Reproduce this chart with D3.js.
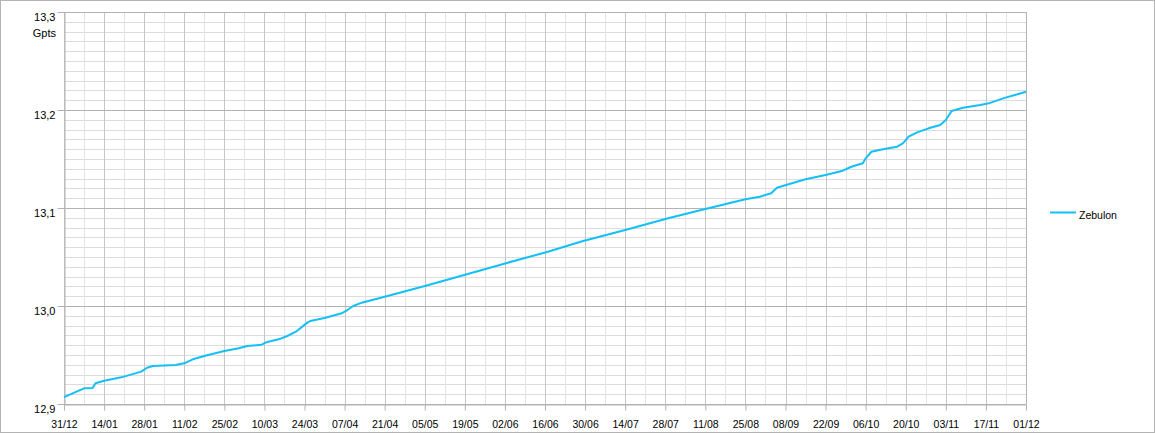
<!DOCTYPE html>
<html>
<head>
<meta charset="utf-8">
<script src="https://cdn.jsdelivr.net/npm/d3@7"></script>
<style>
  html, body { margin: 0; padding: 0; background: #fff; }
  svg { display: block; font-family: "Liberation Sans", Arial, sans-serif; }
</style>
</head>
<body>
<svg id="chart" width="1155" height="433"></svg>
<script>
// ---- data ----
const seriesName = "Zebulon";
const unitLabel = "Gpts";
const dates = [
  "2019-12-31","2020-01-07","2020-01-10","2020-01-11","2020-01-14","2020-01-20","2020-01-27","2020-01-29",
  "2020-01-31","2020-02-08","2020-02-11","2020-02-14","2020-02-19","2020-02-25","2020-03-01","2020-03-04",
  "2020-03-09","2020-03-11","2020-03-15","2020-03-18","2020-03-21","2020-03-25","2020-03-26","2020-03-31",
  "2020-04-06","2020-04-08","2020-04-10","2020-04-13","2020-04-22","2020-05-06","2020-05-20","2020-06-03",
  "2020-06-17","2020-06-29","2020-07-15","2020-07-29","2020-08-11","2020-08-25","2020-08-30","2020-09-03",
  "2020-09-05","2020-09-07","2020-09-15","2020-09-22","2020-09-28","2020-10-01","2020-10-05","2020-10-06",
  "2020-10-08","2020-10-12","2020-10-17","2020-10-19","2020-10-21","2020-10-24","2020-10-28","2020-11-01",
  "2020-11-03","2020-11-05","2020-11-09","2020-11-15","2020-11-18","2020-11-23","2020-11-28","2020-12-01"
];
const values = [
  12.9071,12.9160,12.9163,12.9211,12.9238,12.9272,12.9330,12.9370,
  12.9388,12.9398,12.9415,12.9456,12.9497,12.9541,12.9568,12.9592,
  12.9605,12.9633,12.9660,12.9694,12.9738,12.9830,12.9847,12.9878,
  12.9926,12.9959,13.0000,13.0034,13.0102,13.0211,13.0327,13.0442,
  13.0554,13.0660,13.0784,13.0895,13.0990,13.1089,13.1115,13.1150,
  13.1207,13.1224,13.1293,13.1337,13.1381,13.1421,13.1456,13.1507,
  13.1574,13.1599,13.1626,13.1660,13.1728,13.1772,13.1813,13.1847,
  13.1898,13.1990,13.2023,13.2051,13.2068,13.2119,13.2160,13.2187
];
const xTicks = [
  "2019-12-31","2020-01-14","2020-01-28","2020-02-11","2020-02-25","2020-03-10","2020-03-24",
  "2020-04-07","2020-04-21","2020-05-05","2020-05-19","2020-06-02","2020-06-16","2020-06-30",
  "2020-07-14","2020-07-28","2020-08-11","2020-08-25","2020-09-08","2020-09-22","2020-10-06",
  "2020-10-20","2020-11-03","2020-11-17","2020-12-01"
];
const yTicks = [12.9, 13.0, 13.1, 13.2, 13.3];
const yTickLabels = ["12,9", "13,0", "13,1", "13,2", "13,3"];

// ---- chart ----
(function () {
const parse = d3.utcParse("%Y-%m-%d");
const fmt = d3.utcFormat("%d/%m");
const data = dates.map((d, i) => ({ date: parse(d), value: values[i] }));
const tickDates = xTicks.map(parse);

const svg = d3.select("#chart");
const W = 1155, H = 433;
const pLeft = 64, pRight = 1026, pTop = 12, pBottom = 404;

svg.append("rect").attr("x", 0.5).attr("y", 0.5).attr("width", W - 1).attr("height", H - 1)
  .attr("fill", "#fff").attr("stroke", "#b3b3b3");

const x = d3.scaleUtc().domain([tickDates[0], tickDates[tickDates.length - 1]]).range([pLeft, pRight]);
const y = d3.scaleLinear().domain([12.9, 13.3]).range([pBottom, pTop]);

const grid = svg.append("g");
const minorY = d3.range(1, 40).filter(i => i % 10 !== 0).map(i => 12.9 + i * 0.01);
grid.selectAll(".hmin").data(minorY).join("line")
  .attr("x1", pLeft).attr("x2", pRight)
  .attr("y1", d => Math.round(y(d)) + 0.5).attr("y2", d => Math.round(y(d)) + 0.5)
  .attr("stroke", "#dcdcdc").attr("stroke-width", 1);
const minorX = tickDates.slice(0, -1).map(d => d3.utcDay.offset(d, 7));
grid.selectAll(".vmin").data(minorX).join("line")
  .attr("x1", d => Math.round(x(d)) + 0.5).attr("x2", d => Math.round(x(d)) + 0.5)
  .attr("y1", pTop).attr("y2", pBottom)
  .attr("stroke", "#e3e3e3").attr("stroke-width", 1);
grid.selectAll(".vmaj").data(tickDates).join("line")
  .attr("x1", d => Math.round(x(d)) + 0.5).attr("x2", d => Math.round(x(d)) + 0.5)
  .attr("y1", pTop).attr("y2", pBottom)
  .attr("stroke", "#c6c6c6").attr("stroke-width", 1);
grid.selectAll(".hmaj").data(yTicks).join("line")
  .attr("x1", pLeft).attr("x2", pRight)
  .attr("y1", d => Math.round(y(d)) + 0.5).attr("y2", d => Math.round(y(d)) + 0.5)
  .attr("stroke", "#b3b3b3").attr("stroke-width", 1);

const xAxis = d3.axisBottom(x).tickValues(tickDates).tickFormat(fmt).tickSize(6).tickSizeOuter(0).tickPadding(10);
const gx = svg.append("g").attr("transform", `translate(0,${pBottom + 0.5})`).call(xAxis);
gx.select(".domain").attr("stroke", "#b3b3b3");
gx.selectAll(".tick line").attr("stroke", "#b3b3b3");
gx.selectAll(".tick text").attr("font-size", "10.5px").attr("fill", "#000")
  .attr("font-family", "Liberation Sans, Arial, sans-serif");

const yAxis = d3.axisLeft(y).tickValues(yTicks).tickFormat((d, i) => yTickLabels[i]).tickSize(7).tickSizeOuter(0).tickPadding(2);
const gy = svg.append("g").attr("transform", `translate(${pLeft + 0.5},0)`).call(yAxis);
gy.select(".domain").attr("stroke", "#b3b3b3");
gy.selectAll(".tick line").attr("stroke", "#b3b3b3");
gy.selectAll(".tick text").attr("font-size", "11px").attr("fill", "#000").attr("dy", "0.75em")
  .attr("font-family", "Liberation Sans, Arial, sans-serif");

svg.append("line").attr("x1", pRight + 0.5).attr("x2", pRight + 0.5).attr("y1", pTop).attr("y2", pBottom)
  .attr("stroke", "#b3b3b3");

svg.append("text").attr("x", 56).attr("y", 37).attr("text-anchor", "end")
  .attr("font-size", "11px").attr("fill", "#000").text(unitLabel);

const line = d3.line().x(d => x(d.date)).y(d => y(d.value)).curve(d3.curveLinear);
svg.append("path").datum(data).attr("d", line)
  .attr("fill", "none").attr("stroke", "#14bff5").attr("stroke-width", 2)
  .attr("stroke-linejoin", "round");

svg.append("line").attr("x1", 1050).attr("x2", 1076).attr("y1", 212.5).attr("y2", 212.5)
  .attr("stroke", "#14bff5").attr("stroke-width", 2);
svg.append("text").attr("x", 1079).attr("y", 219).attr("font-size", "10.5px").attr("fill", "#000")
  .text(seriesName);
})();
</script>
</body>
</html>
